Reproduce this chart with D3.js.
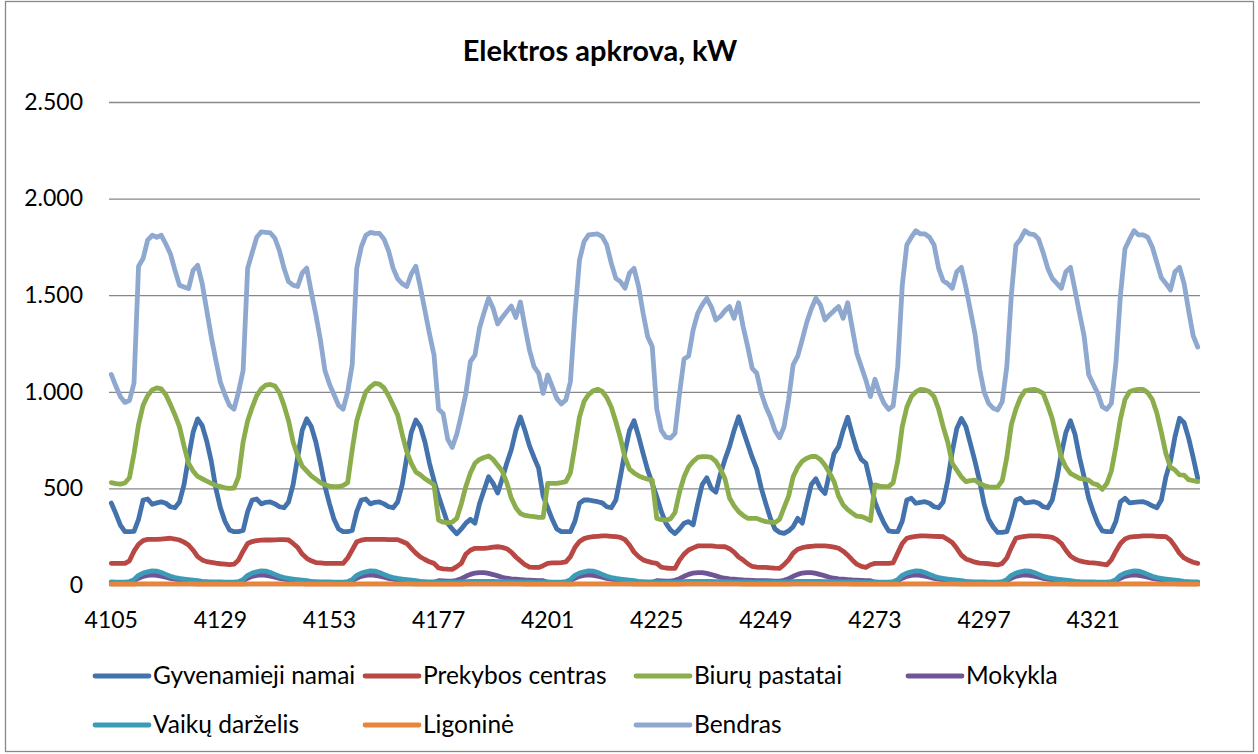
<!DOCTYPE html>
<html>
<head>
<meta charset="utf-8">
<script src="https://cdn.jsdelivr.net/npm/d3@7"></script>
<style>
  body { margin: 0; background: #fff; }
  text { font-family: Lato, "Open Sans", sans-serif; fill: #000; }
</style>
</head>
<body>
<svg id="chart" width="1258" height="754"></svg>
<script>
// ---- data (hourly load, kW) ----
const firstHour = 4105;
const xTickLabels = ["4105", "4129", "4153", "4177", "4201", "4225", "4249", "4273", "4297", "4321"];
const yTickValues = [0, 500, 1000, 1500, 2000, 2500];
const yTickLabels = ["0", "500", "1.000", "1.500", "2.000", "2.500"];

const seriesNames = ["Gyvenamieji namai", "Prekybos centras", "Biurų pastatai", "Mokykla",
                     "Vaikų darželis", "Ligoninė", "Bendras"];
const seriesColors = ["#4372ac", "#b94744", "#8bad4c", "#6f5595", "#3c9cb8", "#e7863a", "#8ea8cf"];

// one line per day (24 h)
const gyvenamieji = [
  424, 370, 310, 276, 276, 278, 340, 440, 445, 418, 425, 430, 423, 405, 400, 430, 520, 660, 790, 860, 825, 745, 640, 500,
  400, 330, 285, 276, 276, 282, 380, 440, 445, 420, 428, 430, 420, 405, 400, 430, 520, 660, 800, 860, 820, 740, 630, 510,
  420, 340, 290, 276, 276, 282, 380, 440, 445, 420, 428, 430, 420, 405, 400, 430, 520, 660, 790, 854, 820, 740, 630, 540,
  460, 390, 320, 290, 265, 290, 320, 340, 320, 420, 490, 560, 526, 476, 550, 630, 700, 800, 870, 800, 720, 660, 605, 460,
  400, 340, 290, 276, 276, 276, 330, 423, 440, 440, 435, 431, 425, 405, 400, 440, 560, 690, 800, 850, 770, 680, 595, 525,
  457, 380, 320, 285, 266, 290, 320, 328, 311, 420, 520, 555, 500, 480, 575, 650, 716, 800, 871, 800, 730, 660, 600, 500,
  420, 345, 290, 272, 267, 280, 302, 345, 320, 423, 520, 550, 500, 474, 580, 680, 716, 800, 868, 780, 700, 650, 630, 530,
  430, 370, 320, 280, 276, 276, 330, 440, 449, 423, 428, 431, 423, 405, 400, 430, 540, 690, 810, 862, 820, 730, 640, 540,
  420, 340, 300, 272, 272, 276, 350, 440, 449, 425, 428, 431, 423, 405, 400, 440, 550, 680, 790, 850, 780, 660, 560, 450,
  380, 320, 280, 276, 276, 330, 430, 449, 425, 428, 430, 431, 423, 410, 400, 440, 560, 640, 768, 863, 840, 760, 660, 552
];
const prekybos = [
  112, 112, 112, 112, 125, 175, 210, 230, 236, 236, 236, 238, 240, 242, 238, 233, 222, 207, 180, 147, 130, 121, 117, 113,
  110, 108, 105, 108, 130, 175, 215, 225, 230, 232, 233, 233, 234, 235, 235, 233, 215, 195, 160, 138, 125, 116, 114, 112,
  112, 112, 112, 112, 140, 181, 224, 232, 236, 236, 236, 236, 236, 235, 235, 235, 225, 215, 190, 165, 145, 132, 120, 112,
  88, 84, 82, 81, 95, 112, 160, 180, 190, 190, 190, 192, 196, 198, 195, 188, 170, 145, 125, 105, 93, 91, 91, 100,
  112, 114, 115, 116, 120, 147, 195, 225, 240, 247, 250, 252, 254, 254, 252, 250, 247, 235, 207, 170, 147, 130, 122, 116,
  112, 92, 88, 86, 86, 129, 160, 181, 192, 202, 202, 202, 202, 200, 199, 198, 188, 170, 145, 129, 110, 96, 93, 91,
  91, 89, 87, 86, 105, 130, 165, 185, 193, 198, 200, 202, 202, 202, 200, 196, 190, 175, 155, 130, 108, 96, 91, 105,
  112, 112, 112, 112, 115, 165, 215, 242, 248, 252, 254, 254, 253, 252, 251, 250, 235, 220, 190, 155, 135, 127, 118, 113,
  112, 110, 107, 104, 112, 140, 195, 242, 248, 252, 254, 254, 254, 252, 250, 247, 235, 215, 180, 150, 135, 125, 120, 116,
  114, 112, 108, 104, 130, 175, 215, 238, 248, 250, 252, 254, 254, 254, 252, 251, 250, 232, 200, 164, 140, 128, 118, 112
];
const biuru = [
  530, 525, 522, 528, 555, 680, 830, 930, 980, 1010, 1020, 1015, 985, 935, 880, 820, 720, 630, 590, 562, 550, 538, 526, 515,
  510, 503, 500, 502, 560, 740, 850, 920, 980, 1015, 1035, 1038, 1030, 995, 930, 850, 740, 670, 615, 590, 565, 548, 530, 518,
  512, 509, 509, 515, 530, 700, 850, 930, 1000, 1025, 1044, 1040, 1020, 980, 930, 880, 780, 690, 630, 585, 570, 550, 535, 518,
  336, 325, 323, 326, 345, 420, 510, 580, 630, 650, 660, 668, 650, 620, 590, 530, 450, 400, 370, 360, 356, 354, 350, 350,
  526, 526, 526, 530, 535, 580, 720, 870, 950, 985, 1005, 1013, 1002, 970, 920, 845, 760, 660, 600, 580, 565, 555, 548, 543,
  345, 338, 336, 342, 375, 480, 560, 612, 640, 660, 664, 664, 660, 640, 600, 550, 450, 410, 380, 360, 345, 345, 345, 335,
  328, 325, 323, 340, 400, 460, 560, 610, 640, 656, 665, 665, 650, 620, 580, 535, 460, 415, 390, 372, 356, 354, 345, 333,
  518, 512, 509, 509, 530, 640, 820, 920, 975, 1000, 1013, 1010, 1000, 975, 910, 820, 740, 630, 595, 560, 535, 540, 543, 525,
  515, 508, 506, 508, 540, 660, 830, 910, 970, 1005, 1010, 1013, 1005, 992, 930, 860, 760, 660, 610, 578, 565, 552, 548, 543,
  525, 518, 495, 525, 590, 716, 860, 960, 1000, 1009, 1013, 1013, 995, 960, 890, 790, 680, 610, 595, 570, 569, 545, 540, 535
];
const mokykla = [
  14, 13, 13, 13, 15, 22, 35, 45, 50, 52, 50, 46, 40, 34, 30, 27, 25, 22, 20, 18, 16, 15, 14, 14,
  14, 13, 13, 13, 15, 22, 35, 45, 50, 52, 50, 46, 40, 34, 30, 27, 25, 22, 20, 18, 16, 15, 14, 14,
  14, 13, 13, 13, 15, 22, 35, 45, 50, 52, 50, 46, 40, 34, 30, 27, 25, 22, 20, 18, 16, 15, 14, 14,
  22, 21, 20, 20, 24, 33, 45, 55, 62, 64, 64, 60, 54, 47, 40, 35, 32, 30, 28, 26, 25, 24, 23, 22,
  14, 13, 13, 13, 15, 22, 35, 45, 50, 52, 50, 46, 40, 34, 30, 27, 25, 22, 20, 18, 16, 15, 14, 14,
  22, 21, 20, 20, 24, 33, 45, 55, 62, 64, 64, 60, 54, 47, 40, 35, 32, 30, 28, 26, 25, 24, 23, 22,
  22, 21, 20, 20, 24, 33, 45, 55, 62, 64, 64, 60, 54, 47, 40, 35, 32, 30, 28, 26, 25, 24, 23, 22,
  14, 13, 13, 13, 15, 22, 35, 45, 50, 52, 50, 46, 40, 34, 30, 27, 25, 22, 20, 18, 16, 15, 14, 14,
  14, 13, 13, 13, 15, 22, 35, 45, 50, 52, 50, 46, 40, 34, 30, 27, 25, 22, 20, 18, 16, 15, 14, 14,
  14, 13, 13, 13, 15, 22, 35, 45, 50, 52, 50, 46, 40, 34, 30, 27, 25, 22, 20, 18, 16, 15, 14, 14
];
const darzelis = [
  16, 15, 15, 15, 17, 28, 50, 62, 68, 73, 72, 65, 55, 45, 38, 34, 31, 28, 25, 22, 19, 17, 16, 16,
  16, 15, 15, 15, 17, 28, 50, 62, 68, 73, 72, 65, 55, 45, 38, 34, 31, 28, 25, 22, 19, 17, 16, 16,
  16, 15, 15, 15, 17, 28, 50, 62, 68, 73, 72, 65, 55, 45, 38, 34, 31, 28, 25, 22, 19, 17, 16, 16,
  16, 15, 15, 15, 15, 16, 17, 18, 18, 18, 18, 18, 18, 17, 17, 17, 17, 16, 16, 16, 16, 15, 15, 15,
  16, 15, 15, 15, 17, 28, 50, 62, 68, 73, 72, 65, 55, 45, 38, 34, 31, 28, 25, 22, 19, 17, 16, 16,
  16, 15, 15, 15, 15, 16, 17, 18, 18, 18, 18, 18, 18, 17, 17, 17, 17, 16, 16, 16, 16, 15, 15, 15,
  16, 15, 15, 15, 15, 16, 17, 18, 18, 18, 18, 18, 18, 17, 17, 17, 17, 16, 16, 16, 16, 15, 15, 15,
  16, 15, 15, 15, 17, 28, 50, 62, 68, 73, 72, 65, 55, 45, 38, 34, 31, 28, 25, 22, 19, 17, 16, 16,
  16, 15, 15, 15, 17, 28, 50, 62, 68, 73, 72, 65, 55, 45, 38, 34, 31, 28, 25, 22, 19, 17, 16, 16,
  16, 15, 15, 15, 17, 28, 50, 62, 68, 73, 72, 65, 55, 45, 38, 34, 31, 28, 25, 22, 19, 17, 16, 16
];
const ligonine = [
  5, 5, 5, 5, 5, 5, 6, 6, 6, 6, 6, 6, 6, 6, 6, 6, 6, 6, 6, 5, 5, 5, 5, 5,
  5, 5, 5, 5, 5, 5, 6, 6, 6, 6, 6, 6, 6, 6, 6, 6, 6, 6, 6, 5, 5, 5, 5, 5,
  5, 5, 5, 5, 5, 5, 6, 6, 6, 6, 6, 6, 6, 6, 6, 6, 6, 6, 6, 5, 5, 5, 5, 5,
  5, 5, 5, 5, 5, 5, 6, 6, 6, 6, 6, 6, 6, 6, 6, 6, 6, 6, 6, 5, 5, 5, 5, 5,
  5, 5, 5, 5, 5, 5, 6, 6, 6, 6, 6, 6, 6, 6, 6, 6, 6, 6, 6, 5, 5, 5, 5, 5,
  5, 5, 5, 5, 5, 5, 6, 6, 6, 6, 6, 6, 6, 6, 6, 6, 6, 6, 6, 5, 5, 5, 5, 5,
  5, 5, 5, 5, 5, 5, 6, 6, 6, 6, 6, 6, 6, 6, 6, 6, 6, 6, 6, 5, 5, 5, 5, 5,
  5, 5, 5, 5, 5, 5, 6, 6, 6, 6, 6, 6, 6, 6, 6, 6, 6, 6, 6, 5, 5, 5, 5, 5,
  5, 5, 5, 5, 5, 5, 6, 6, 6, 6, 6, 6, 6, 6, 6, 6, 6, 6, 6, 5, 5, 5, 5, 5,
  5, 5, 5, 5, 5, 5, 6, 6, 6, 6, 6, 6, 6, 6, 6, 6, 6, 6, 6, 5, 5, 5, 5, 5
];
const bendras = [
  1090, 1030, 975, 945, 955, 1045, 1650, 1690, 1785, 1810, 1800, 1810, 1765, 1715, 1630, 1552, 1543, 1534, 1629, 1655, 1560, 1422, 1284, 1164,
  1050, 985, 930, 910, 1000, 1110, 1640, 1720, 1800, 1828, 1825, 1822, 1795, 1730, 1640, 1570, 1552, 1545, 1615, 1640, 1515, 1400, 1270, 1110,
  1040, 985, 930, 910, 1000, 1140, 1640, 1750, 1810, 1825, 1820, 1820, 1790, 1730, 1640, 1585, 1560, 1545, 1610, 1650, 1540, 1420, 1300, 1190,
  910, 888, 755, 712, 780, 880, 990, 1156, 1190, 1330, 1410, 1484, 1432, 1351, 1385, 1415, 1444, 1385, 1465, 1337, 1216, 1130, 1096, 992,
  1087, 1027, 966, 937, 958, 1052, 1400, 1682, 1777, 1812, 1815, 1817, 1803, 1760, 1665, 1587, 1570, 1536, 1615, 1639, 1544, 1406, 1285, 1234,
  910, 800, 765, 760, 785, 990, 1170, 1185, 1320, 1406, 1450, 1484, 1440, 1372, 1390, 1420, 1441, 1380, 1461, 1337, 1234, 1121, 1096, 992,
  923, 870, 800, 762, 820, 960, 1140, 1185, 1270, 1360, 1430, 1484, 1450, 1372, 1398, 1420, 1441, 1380, 1461, 1330, 1200, 1130, 1060, 975,
  1065, 992, 940, 909, 927, 1130, 1550, 1760, 1800, 1834, 1817, 1817, 1800, 1760, 1640, 1575, 1560, 1536, 1622, 1644, 1540, 1420, 1300, 1120,
  1000, 940, 915, 906, 949, 1130, 1500, 1760, 1790, 1834, 1817, 1814, 1790, 1720, 1640, 1587, 1561, 1536, 1622, 1644, 1527, 1406, 1290, 1090,
  1040, 992, 923, 909, 940, 1150, 1500, 1740, 1790, 1834, 1812, 1812, 1800, 1750, 1670, 1590, 1561, 1527, 1622, 1644, 1560, 1420, 1290, 1232
];

const seriesValues = [gyvenamieji, prekybos, biuru, mokykla, darzelis, ligonine, bendras];
const hours = d3.range(firstHour, firstHour + bendras.length);

// ---- layout ----
const svg = d3.select("#chart");
const W = 1258, H = 754;
const plot = {left: 109, right: 1200, top: 102, bottom: 585};

svg.append("rect")
   .attr("x", 0).attr("y", 0).attr("width", W).attr("height", H)
   .attr("fill", "#fff");

svg.append("rect")
   .attr("x", 5.5).attr("y", 1.5)
   .attr("width", 1248).attr("height", 750)
   .attr("fill", "none")
   .attr("stroke", "#888")
   .attr("stroke-width", 1.3);

const xScale = d3.scaleBand()
                 .domain(hours)
                 .range([plot.left, plot.right]);
const half = xScale.bandwidth() / 2;

const yScale = d3.scaleLinear()
                 .domain([0, 2500])
                 .range([plot.bottom, plot.top]);

// gridlines
svg.append("g")
   .attr("class", "grid")
   .attr("transform", "translate(" + plot.left + ",0)")
   .call(d3.axisLeft(yScale)
           .tickValues(yTickValues)
           .tickSize(-(plot.right - plot.left))
           .tickFormat(""))
   .call(g => g.select(".domain").remove())
   .call(g => g.selectAll("line").attr("stroke", "#878787").attr("stroke-width", 1.3));

// y axis labels
svg.append("g")
   .attr("class", "y-axis")
   .attr("transform", "translate(" + plot.left + ",0)")
   .call(d3.axisLeft(yScale)
           .tickValues(yTickValues)
           .tickSize(0)
           .tickPadding(26)
           .tickFormat((d, i) => yTickLabels[i]))
   .call(g => g.select(".domain").remove())
   .call(g => g.selectAll("text").style("font-size", "23px").style("font-family", "Lato, sans-serif"));

// x axis labels
const tickHours = xTickLabels.map(Number);
svg.append("g")
   .attr("class", "x-axis")
   .attr("transform", "translate(0," + plot.bottom + ")")
   .call(d3.axisBottom(xScale)
           .tickValues(tickHours)
           .tickSize(0)
           .tickPadding(27))
   .call(g => g.select(".domain").remove())
   .call(g => g.selectAll("text").style("font-size", "23px").style("font-family", "Lato, sans-serif"));

// lines
const line = d3.line()
               .x((d, i) => xScale(hours[i]) + half)
               .y(d => yScale(d));

svg.append("g")
   .selectAll("path")
   .data(seriesValues)
   .join("path")
   .attr("d", d => line(d))
   .attr("fill", "none")
   .attr("stroke", (d, i) => seriesColors[i])
   .attr("stroke-width", 4.8)
   .attr("stroke-linejoin", "round")
   .attr("stroke-linecap", "round");

// title
svg.append("text")
   .attr("x", 600)
   .attr("y", 61)
   .attr("text-anchor", "middle")
   .style("font-size", "29px")
   .style("font-weight", "bold")
   .text("Elektros apkrova, kW");

// legend
const legendCols = [95, 365, 636, 908];
const legendRows = [676, 725];
const legend = svg.append("g").attr("class", "legend");
seriesNames.forEach((name, i) => {
    const lx = legendCols[i % 4];
    const ly = legendRows[Math.floor(i / 4)];
    legend.append("line")
          .attr("x1", lx).attr("x2", lx + 54)
          .attr("y1", ly).attr("y2", ly)
          .attr("stroke", seriesColors[i])
          .attr("stroke-width", 4.8)
          .attr("stroke-linecap", "round");
    legend.append("text")
          .attr("x", lx + 58)
          .attr("y", ly + 8)
          .style("font-size", "24.5px")
          .text(name);
});
</script>
</body>
</html>
